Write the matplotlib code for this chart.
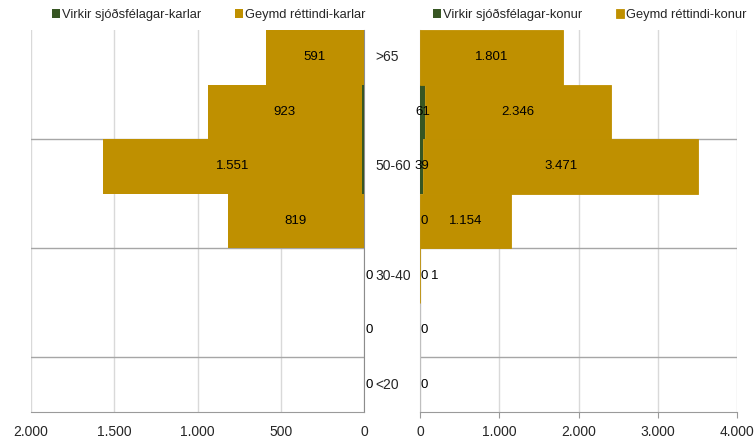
import matplotlib.pyplot as plt
import numpy as np
from matplotlib.ticker import FuncFormatter, FixedLocator
from matplotlib.transforms import blended_transform_factory, offset_copy

plt.rcParams['font.family'] = ['Liberation Sans', 'DejaVu Sans']

aldur = ["<20", "20-30", "30-40", "40-50", "50-60", "60-65", ">65"]
karlar_virkir = [0, 0, 0, 0, 15, 15, 0]
karlar_geymd = [0, 0, 0, 819, 1551, 923, 591]
konur_virkir = [0, 0, 0, 0, 39, 61, np.nan]
konur_geymd = [np.nan, np.nan, 1, 1154, 3471, 2346, 1801]

green = "#375623"
gold = "#BF9000"

def thousands(v, pos=None):
    return f"{v:,.0f}".replace(",", ".")

fig = plt.figure(figsize=(7.56, 4.37), dpi=100)
ax_l = fig.add_axes([31/756, 1-412/437, 333/756, 382/437])
ax_r = fig.add_axes([420/756, 1-412/437, 317/756, 382/437])

y = np.arange(len(aldur))
kv = np.array(karlar_virkir, float)
kg = np.array(karlar_geymd, float)
fv = np.array(konur_virkir, float)
fg = np.array(konur_geymd, float)

ax_l.barh(y, kv, height=1.0, color=green, zorder=3, label="Virkir sjóðsfélagar-karlar")
ax_l.barh(y, kg, left=kv, height=1.0, color=gold, zorder=3, label="Geymd réttindi-karlar")
ax_r.barh(y, np.nan_to_num(fv), height=1.0, color=green, zorder=3,
          label="Virkir sjóðsfélagar-konur")
ax_r.barh(y, fg, left=np.nan_to_num(fv), height=1.0, color=gold, zorder=3,
          edgecolor=gold, linewidth=0.6, label="Geymd réttindi-konur")

ax_l.set_xlim(2000, 0)
ax_r.set_xlim(0, 4000)
for ax in (ax_l, ax_r):
    ax.set_ylim(-0.5, 6.5)
    ax.set_axisbelow(True)
    ax.xaxis.set_major_formatter(FuncFormatter(thousands))
    ax.yaxis.set_major_locator(FixedLocator([0.5, 2.5, 4.5]))
    ax.tick_params(axis='y', length=0, labelleft=False)
    ax.tick_params(axis='x', labelsize=10, colors="#262626")
    ax.grid(True, axis='y', color="#A6A6A6", linewidth=1.0)
    ax.grid(True, axis='x', color="#D9D9D9", linewidth=1.0)
    for s in ("top", "left", "right"):
        ax.spines[s].set_visible(False)
    ax.spines["bottom"].set_color("#9A9A9A")

ax_l.set_xticks([2000, 1500, 1000, 500, 0])
ax_l.tick_params(axis='x', length=0, pad=9)
ax_l.spines["right"].set_visible(True)
ax_l.spines["right"].set_color("#8C8C8C")
ax_r.set_xticks([0, 1000, 2000, 3000, 4000])
ax_r.tick_params(axis='x', length=4, pad=5, color="#9A9A9A")
ax_r.spines["left"].set_visible(True)
ax_r.spines["left"].set_color("#BFBFBF")

# age group labels between the two panels, every other one
tr = blended_transform_factory(ax_l.transAxes, ax_l.transData)
for i in range(0, len(aldur), 2):
    ax_l.text(1.033, y[i], aldur[i], transform=tr, ha="left", va="center",
              fontsize=10, color="#262626", clip_on=False)

lab = dict(fontsize=9.5, color="#000000", va="center", clip_on=False, zorder=5)

# men: stored rights labels
for i in range(len(y)):
    if kg[i] == 0:
        t = offset_copy(ax_l.transData, fig=fig, x=5, y=0, units="dots")
        ax_l.text(0, y[i], thousands(kg[i]), transform=t, ha="center", **lab)
    else:
        ax_l.text(kv[i] + kg[i] / 2, y[i], thousands(kg[i]), ha="center", **lab)

# women: active members and stored rights labels
for i in range(len(y)):
    if not np.isnan(fv[i]):
        dx = 4 if fv[i] == 0 else 0
        t = offset_copy(ax_r.transData, fig=fig, x=dx, y=0, units="dots")
        ax_r.text(fv[i] / 2, y[i], thousands(fv[i]), transform=t, ha="center", **lab)
    if not np.isnan(fg[i]):
        if fg[i] < 50:
            t = offset_copy(ax_r.transData, fig=fig, x=15, y=0, units="dots")
            ax_r.text(np.nan_to_num(fv[i]) + fg[i] / 2, y[i], thousands(fg[i]),
                      transform=t, ha="center", **lab)
        else:
            ax_r.text(np.nan_to_num(fv[i]) + fg[i] / 2, y[i], thousands(fg[i]),
                      ha="center", **lab)

leg = dict(ncol=2, frameon=False, fontsize=9.3, handlelength=0.6, handleheight=0.6,
           handletextpad=0.2, columnspacing=2.6, loc="center",
           labelcolor="#262626")
fig.legend(*ax_l.get_legend_handles_labels(), bbox_to_anchor=(209/756, 1-15/437), **leg)
fig.legend(*ax_r.get_legend_handles_labels(), bbox_to_anchor=(590/756, 1-15/437), **leg)

fig.savefig("out.png", dpi=100)
